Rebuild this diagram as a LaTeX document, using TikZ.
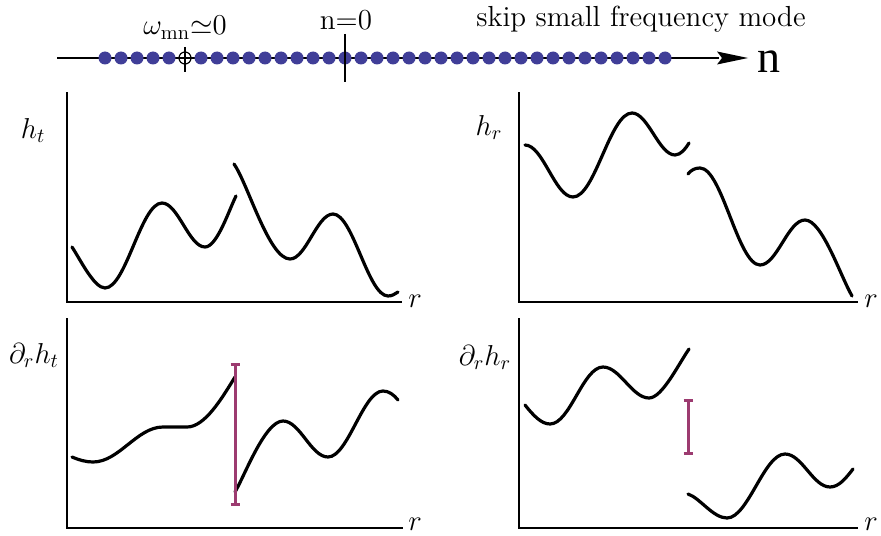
\documentclass[tikz,border=0pt]{standalone}
\usepackage{fontspec}
\newfontfamily\timesfont{Liberation Serif}
\definecolor{dotblue}{RGB}{64,62,152}
\definecolor{barpurple}{RGB}{156,59,112}
\begin{document}
\begin{tikzpicture}[x=0.5pt,y=0.5pt,
  lab/.style={inner sep=0pt,anchor=base,font=\fontsize{14.5}{17}\selectfont},
  axisline/.style={line width=0.75pt},
  curve/.style={line width=1.6pt,line cap=round},
  errbar/.style={barpurple,line width=1.5pt},
  dotstyle/.style={fill=dotblue,draw=none}]
\useasboundingbox (0,0) rectangle (881,-535);
% ---- top n axis
\coordinate (nstart) at (57,-58);
\coordinate (nend) at (719,-58);
\draw[line width=0.6pt] (nstart) -- (nend);
\fill (717,-51.5) -- (748,-58) -- (717,-64.5) -- (722,-58) -- cycle;
\foreach \i in {0,...,35}{
  \ifnum\i=5\relax\else
    \fill[dotstyle] ({105+16*\i},-58) circle (6.5);
  \fi}
\node[draw,circle,inner sep=0pt,minimum size=6pt,line width=0.6pt] (om) at (185,-58) {};
\draw[line width=0.6pt] (185,-47) -- (185,-72);
\draw[line width=0.6pt] (345,-34) -- (345,-82);
\node[lab] (wlab) at (185,-35) {$\omega_{\mathrm{mn}}{\simeq}0$};
\node[lab] (n0) at (346,-30) {n=0};
\node[lab] (skip) at (641,-27) {skip small frequency mode};
\node[lab,font=\timesfont\fontsize{23}{26}\selectfont] (nlab) at (769,-73) {n};
% ---- axes
\coordinate (tltop) at (67,-92);
\coordinate (tlorig) at (67,-302);
\coordinate (tlend) at (402,-302);
\coordinate (trtop) at (519,-92);
\coordinate (trorig) at (519,-302);
\coordinate (trend) at (858,-302);
\coordinate (bltop) at (67,-318);
\coordinate (blorig) at (67,-528);
\coordinate (blend) at (403,-528);
\coordinate (brtop) at (519,-318);
\coordinate (brorig) at (519,-528);
\coordinate (brend) at (858,-528);
\draw[axisline] (tltop) -- (tlorig) -- (tlend);
\draw[axisline] (trtop) -- (trorig) -- (trend);
\draw[axisline] (bltop) -- (blorig) -- (blend);
\draw[axisline] (brtop) -- (brorig) -- (brend);
% labels
\node[lab] (ht) at (33,-138) {$h_t$};
\node[lab] (hr) at (489,-135) {$h_r$};
\node[lab] (dht) at (34,-363) {$\partial_r h_t$};
\node[lab] (dhr) at (485,-365) {$\partial_r h_r$};
\node[lab] (r1) at (415,-307) {$r$};
\node[lab] (r2) at (871,-307) {$r$};
\node[lab] (r3) at (415,-530) {$r$};
\node[lab] (r4) at (871,-530) {$r$};
% ---- top-left curves
\draw[curve] (72,-247) .. controls (80,-259) and (94,-288) .. (105,-288)
  .. controls (126,-288) and (141,-203) .. (162,-203)
  .. controls (178,-203) and (189,-247) .. (205,-247)
  .. controls (217,-247) and (229,-210) .. (236,-196);
\draw[curve] (234,-164) .. controls (248,-184) and (269,-259) .. (290,-259)
  .. controls (306,-259) and (317,-214) .. (333,-214)
  .. controls (353,-214) and (368,-296) .. (388,-296)
  .. controls (392,-296) and (395,-294) .. (398,-292);
% ---- top-right curves
\draw[curve] (525,-145) .. controls (543,-145) and (555,-197) .. (573,-197)
  .. controls (595,-197) and (610,-113) .. (632,-113)
  .. controls (648,-113) and (659,-155) .. (675,-155)
  .. controls (681,-155) and (686,-148) .. (689,-143);
\draw[curve] (688,-174) .. controls (691,-170) and (695,-168) .. (700,-168)
  .. controls (722,-168) and (738,-265) .. (760,-265)
  .. controls (777,-265) and (788,-220) .. (805,-220)
  .. controls (822,-220) and (840,-275) .. (852,-296);
% ---- bottom-left curves
\draw[curve] (72,-457) .. controls (79,-460) and (86,-462) .. (93,-462)
  .. controls (119,-462) and (137,-427) .. (163,-427)
  .. controls (172,-427) and (178,-427) .. (187,-427)
  .. controls (205,-427) and (222,-398) .. (235,-377);
\draw[curve] (235,-492) .. controls (245,-475) and (265,-421) .. (283,-421)
  .. controls (300,-421) and (311,-457) .. (328,-457)
  .. controls (348,-457) and (363,-391) .. (383,-391)
  .. controls (389,-391) and (394,-395) .. (398,-400);
\coordinate (ebat) at (235,-364);
\coordinate (ebab) at (235,-504);
\draw[errbar] (ebat) -- (ebab);
\draw[errbar] ([xshift=-2.25pt]ebat) -- ([xshift=2.25pt]ebat);
\draw[errbar] ([xshift=-2.25pt]ebab) -- ([xshift=2.25pt]ebab);
% ---- bottom-right curves
\draw[curve] (525,-405) .. controls (533,-415) and (541,-424) .. (550,-424)
  .. controls (570,-424) and (583,-367) .. (603,-367)
  .. controls (620,-367) and (632,-398) .. (649,-398)
  .. controls (662,-398) and (678,-365) .. (689,-349);
\draw[curve] (688,-494) .. controls (700,-498) and (713,-518) .. (727,-518)
  .. controls (748,-518) and (764,-454) .. (785,-454)
  .. controls (802,-454) and (813,-487) .. (830,-487)
  .. controls (839,-487) and (846,-478) .. (853,-469);
\coordinate (ebbt) at (688,-400);
\coordinate (ebbb) at (688,-453);
\draw[errbar] (ebbt) -- (ebbb);
\draw[errbar] ([xshift=-2.25pt]ebbt) -- ([xshift=2.25pt]ebbt);
\draw[errbar] ([xshift=-2.25pt]ebbb) -- ([xshift=2.25pt]ebbb);
\end{tikzpicture}
\end{document}
